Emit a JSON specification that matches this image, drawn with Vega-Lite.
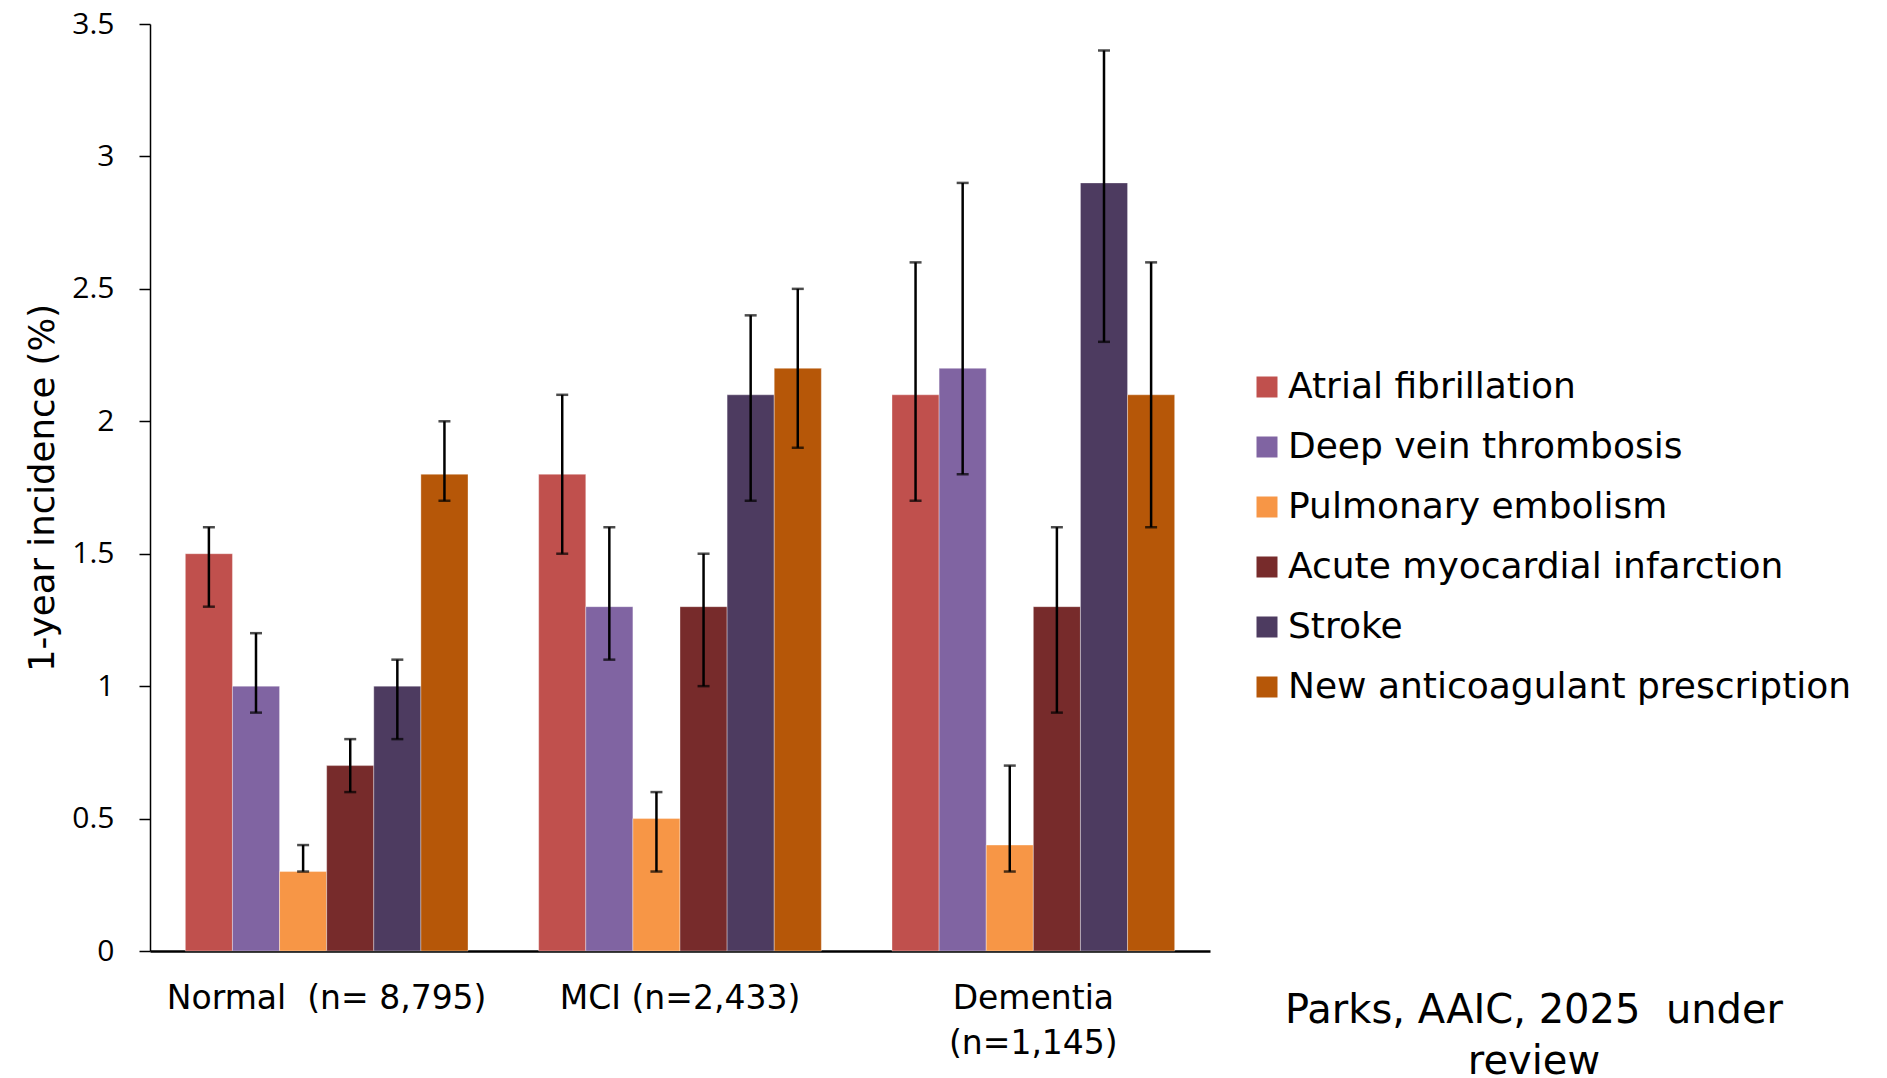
{
  "$schema": "https://vega.github.io/schema/vega-lite/v6.json",
  "autosize": {"type": "none"},
  "padding": {"left": 150, "top": 24, "right": 677, "bottom": 127},
  "width": 1060,
  "height": 927,
  "background": "white",
  "view": {"stroke": null},
  "title": {
    "text": ["Parks, AAIC, 2025\u00a0 under", "review"],
    "orient": "bottom",
    "anchor": "end",
    "frame": "group",
    "align": "center",
    "dx": 324,
    "dy": -69,
    "offset": 0,
    "font": "DejaVu Sans",
    "fontSize": 40,
    "fontWeight": "normal",
    "lineHeight": 51,
    "color": "black"
  },
  "data": {
    "values": [
      {"group": "Normal  (n= 8,795)", "event": "Atrial fibrillation", "value": 1.5, "lo": 1.3, "hi": 1.6},
      {"group": "Normal  (n= 8,795)", "event": "Deep vein thrombosis", "value": 1.0, "lo": 0.9, "hi": 1.2},
      {"group": "Normal  (n= 8,795)", "event": "Pulmonary embolism", "value": 0.3, "lo": 0.3, "hi": 0.4},
      {"group": "Normal  (n= 8,795)", "event": "Acute myocardial infarction", "value": 0.7, "lo": 0.6, "hi": 0.8},
      {"group": "Normal  (n= 8,795)", "event": "Stroke", "value": 1.0, "lo": 0.8, "hi": 1.1},
      {"group": "Normal  (n= 8,795)", "event": "New anticoagulant prescription", "value": 1.8, "lo": 1.7, "hi": 2.0},
      {"group": "MCI (n=2,433)", "event": "Atrial fibrillation", "value": 1.8, "lo": 1.5, "hi": 2.1},
      {"group": "MCI (n=2,433)", "event": "Deep vein thrombosis", "value": 1.3, "lo": 1.1, "hi": 1.6},
      {"group": "MCI (n=2,433)", "event": "Pulmonary embolism", "value": 0.5, "lo": 0.3, "hi": 0.6},
      {"group": "MCI (n=2,433)", "event": "Acute myocardial infarction", "value": 1.3, "lo": 1.0, "hi": 1.5},
      {"group": "MCI (n=2,433)", "event": "Stroke", "value": 2.1, "lo": 1.7, "hi": 2.4},
      {"group": "MCI (n=2,433)", "event": "New anticoagulant prescription", "value": 2.2, "lo": 1.9, "hi": 2.5},
      {"group": "Dementia (n=1,145)", "event": "Atrial fibrillation", "value": 2.1, "lo": 1.7, "hi": 2.6},
      {"group": "Dementia (n=1,145)", "event": "Deep vein thrombosis", "value": 2.2, "lo": 1.8, "hi": 2.9},
      {"group": "Dementia (n=1,145)", "event": "Pulmonary embolism", "value": 0.4, "lo": 0.3, "hi": 0.7},
      {"group": "Dementia (n=1,145)", "event": "Acute myocardial infarction", "value": 1.3, "lo": 0.9, "hi": 1.6},
      {"group": "Dementia (n=1,145)", "event": "Stroke", "value": 2.9, "lo": 2.3, "hi": 3.4},
      {"group": "Dementia (n=1,145)", "event": "New anticoagulant prescription", "value": 2.1, "lo": 1.6, "hi": 2.6}
    ]
  },
  "encoding": {
    "x": {
      "field": "group",
      "type": "nominal",
      "sort": null,
      "scale": {"paddingInner": 0.2, "paddingOuter": 0.1},
      "axis": {
        "title": null,
        "labelAngle": 0,
        "labelFont": "DejaVu Sans",
        "labelFontSize": 33,
        "labelColor": "black",
        "labelPadding": 31,
        "labelLineHeight": 45,
        "labelLimit": 1000,
        "labelExpr": "datum.label == 'Dementia (n=1,145)' ? ['Dementia', '(n=1,145)'] : replace(datum.label, '  ', ' \u00a0')",
        "ticks": false,
        "domainColor": "black",
        "domainWidth": 2.5
      }
    },
    "xOffset": {
      "field": "event",
      "type": "nominal",
      "sort": ["Atrial fibrillation", "Deep vein thrombosis", "Pulmonary embolism", "Acute myocardial infarction", "Stroke", "New anticoagulant prescription"],
      "scale": {"paddingInner": 0, "paddingOuter": 0}
    }
  },
  "layer": [
    {
      "mark": {"type": "bar", "stroke": "white", "strokeOpacity": 0.35, "strokeWidth": 1},
      "encoding": {
        "y": {
          "field": "value",
          "type": "quantitative",
          "scale": {"domain": [0, 3.5], "nice": false},
          "axis": {
            "title": "1-year incidence (%)",
            "titleFont": "DejaVu Sans",
            "titleFontSize": 35.5,
            "titleFontWeight": "normal",
            "titleColor": "black",
            "titlePadding": 11,
            "values": [0, 0.5, 1, 1.5, 2, 2.5, 3, 3.5],
            "format": "~g",
            "labelFont": "Open Sans",
            "labelFontSize": 30,
            "labelColor": "black",
            "labelPadding": 25,
            "tickSize": 11,
            "tickColor": "black",
            "tickWidth": 1.5,
            "domainColor": "black",
            "domainWidth": 1.5,
            "grid": false
          }
        },
        "color": {
          "field": "event",
          "type": "nominal",
          "scale": {
            "domain": ["Atrial fibrillation", "Deep vein thrombosis", "Pulmonary embolism", "Acute myocardial infarction", "Stroke", "New anticoagulant prescription"],
            "range": ["#C0504D", "#8064A2", "#F79646", "#772B2B", "#4D3B60", "#B65708"]
          },
          "legend": {
            "title": null,
            "orient": "none",
            "legendX": 1099,
            "legendY": 345,
            "symbolType": "square",
            "symbolSize": 441,
            "symbolStrokeWidth": 0,
            "labelFont": "DejaVu Sans",
            "labelFontSize": 36,
            "labelColor": "black",
            "labelOffset": 3,
            "labelLimit": 800,
            "rowPadding": 24
          }
        }
      }
    },
    {
      "mark": {"type": "rule", "color": "black", "strokeWidth": 2.5},
      "encoding": {
        "y": {"field": "lo", "type": "quantitative"},
        "y2": {"field": "hi"}
      }
    },
    {
      "mark": {"type": "tick", "color": "black", "thickness": 2.5, "size": 12},
      "encoding": {"y": {"field": "lo", "type": "quantitative"}}
    },
    {
      "mark": {"type": "tick", "color": "black", "thickness": 2.5, "size": 12},
      "encoding": {"y": {"field": "hi", "type": "quantitative"}}
    }
  ]
}
